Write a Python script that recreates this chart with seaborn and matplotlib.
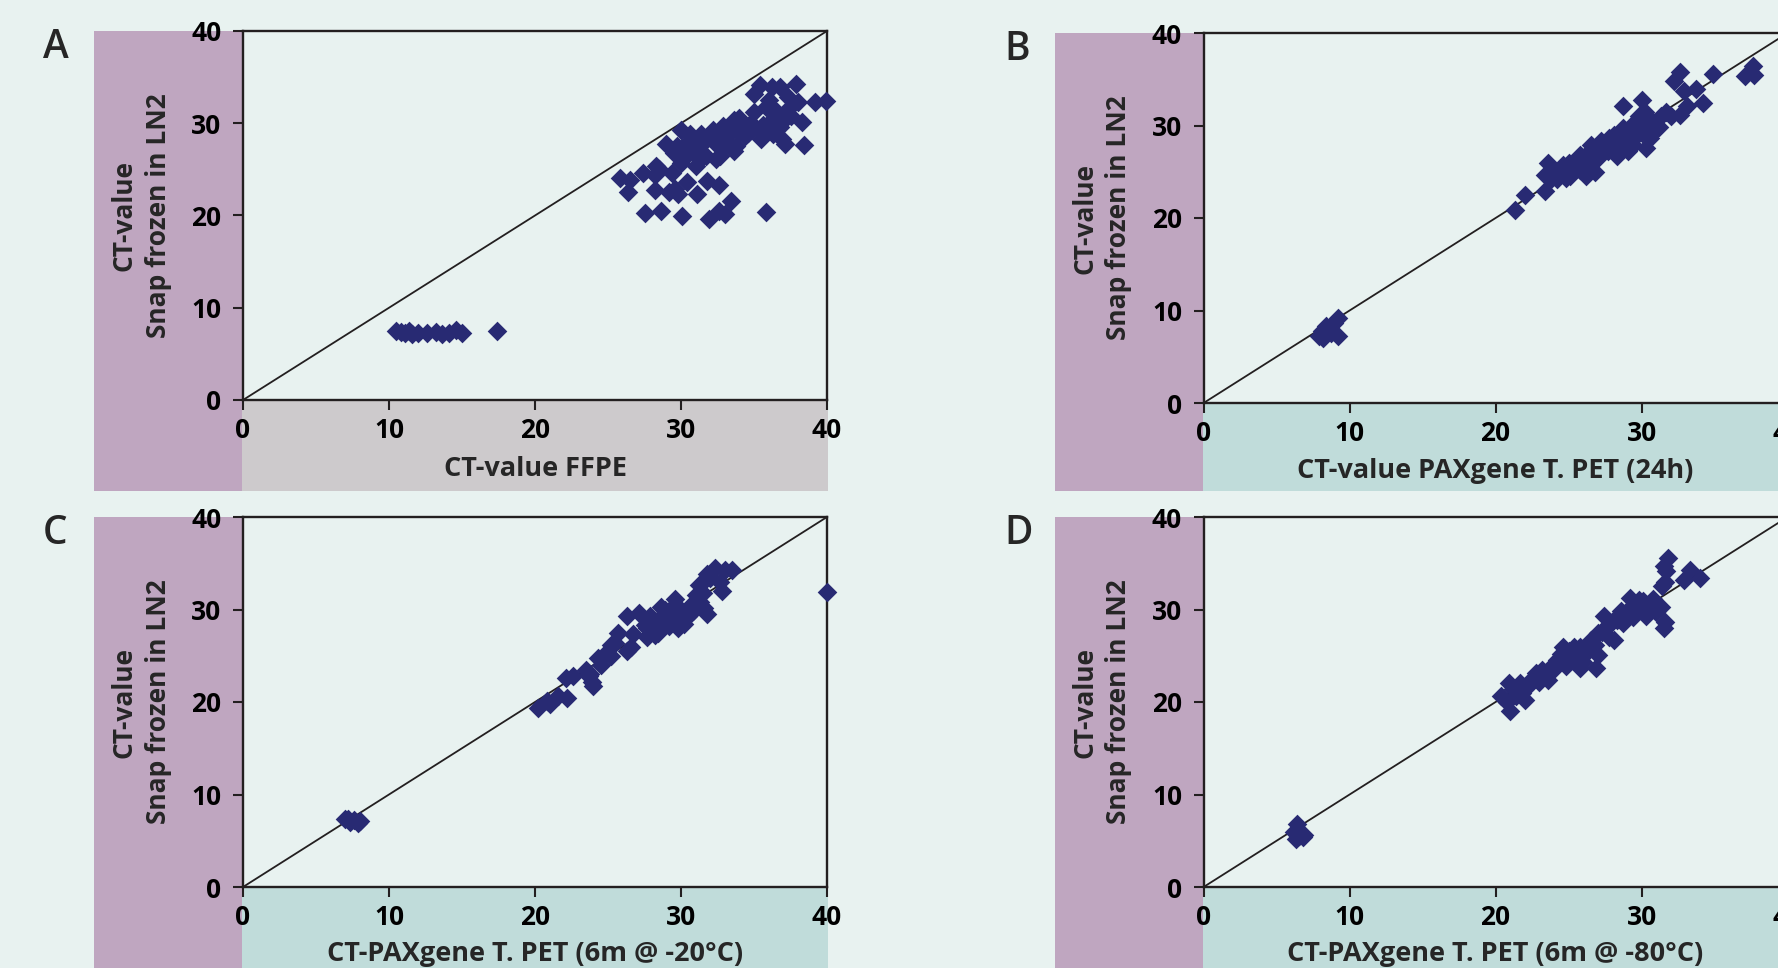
import matplotlib
matplotlib.use("Agg")
import matplotlib.pyplot as plt
from matplotlib.patches import Rectangle
import seaborn as sns

# ---- data ----
ticks = [0, 10, 20, 30, 40]
ylabel_top = "CT-value"
ylabel_bottom = "Snap frozen in LN2"

ffpe_x = [10.5, 10.8, 11.1, 11.4, 11.6, 12.0, 12.6, 13.2, 13.6, 14.1, 14.6, 15.0, 17.4,
          25.8, 26.4, 26.5, 27.4, 27.5, 28.2, 28.2, 28.3, 28.6, 29.0, 29.2, 29.4, 29.5, 29.8,
          30.0, 30.0, 30.1, 30.4, 30.4, 30.8, 31.1, 31.3, 31.3, 31.7, 31.8, 31.9, 32.0, 32.4,
          32.4, 32.6, 32.6, 32.7, 32.9, 33.3, 33.4, 33.6, 33.6, 33.8, 34.3, 34.4, 35.0, 35.0,
          35.4, 35.4, 35.5, 35.8, 36.1, 36.2, 36.2, 36.5, 36.8, 36.9, 37.1, 37.3, 37.5, 37.9,
          38.0, 38.3, 38.4, 39.2, 39.9,
          30.6, 31.6, 33.0, 34.0, 34.8, 29.7, 30.2, 32.2, 36.0, 36.6, 37.0, 28.5, 29.6, 33.0,
          30.9, 31.4, 32.5, 33.2, 34.6, 35.6, 36.3, 30.3, 31.0, 32.8, 34.0, 35.8, 36.8, 37.4]
ffpe_y = [7.5, 7.4, 7.3, 7.5, 7.2, 7.3, 7.3, 7.4, 7.2, 7.3, 7.6, 7.3, 7.5,
          24.1, 22.6, 23.9, 24.6, 20.3, 24.4, 22.8, 25.4, 20.5, 27.7, 22.5, 24.6, 26.8, 22.3,
          29.3, 25.7, 19.9, 27.9, 23.6, 26.8, 22.3, 27.5, 26.1, 26.4, 23.7, 19.6, 28.8, 27.7,
          26.1, 23.3, 20.5, 26.4, 29.7, 28.8, 21.6, 30.3, 27.0, 27.5, 29.7, 28.6, 33.2, 31.2,
          34.2, 29.2, 28.3, 20.4, 31.9, 33.9, 30.4, 29.3, 33.9, 28.3, 27.7, 32.8, 30.8, 34.3,
          32.3, 30.1, 27.6, 32.3, 32.4,
          28.8, 28.3, 28.2, 29.0, 30.0, 27.5, 26.2, 29.3, 32.5, 31.2, 30.2, 25.0, 22.9, 20.2,
          27.6, 28.8, 28.4, 29.4, 28.9, 29.8, 28.8, 27.2, 25.4, 27.3, 30.6, 31.8, 29.6, 31.6]

pet24_x = [7.9, 8.2, 8.4, 8.7, 8.9, 9.2, 9.2, 8.1,
           21.3, 22.0, 23.4, 23.4, 23.6, 24.6, 25.1, 25.8, 26.2, 26.8, 26.5, 27.2, 27.7, 28.1,
           28.3, 28.7, 29.1, 29.4, 29.9, 30.3, 30.6, 28.7, 30.0, 31.0, 31.7, 32.6, 33.1, 32.2,
           32.6, 32.9, 33.7, 34.2, 34.9, 37.1, 37.6, 37.7,
           24.0, 25.0, 25.5, 26.0, 27.0, 27.5, 28.5, 29.5, 30.2, 31.2, 32.0, 29.8, 24.2, 26.5,
           24.5, 25.3, 25.8, 26.3, 26.8, 27.3, 27.8, 28.2, 28.9, 29.3, 30.0, 30.5, 31.3, 30.8,
           24.8, 23.8, 29.6, 30.2]
pet24_y = [7.2, 7.0, 8.3, 7.6, 8.6, 9.2, 7.2, 7.8,
           20.9, 22.5, 22.9, 24.7, 25.9, 25.7, 24.5, 26.8, 24.5, 25.0, 27.9, 28.3, 27.2, 29.0,
           26.7, 29.7, 27.2, 27.9, 30.4, 27.6, 28.6, 32.1, 32.8, 30.1, 31.5, 31.1, 32.1, 34.8,
           35.8, 33.7, 33.9, 32.4, 35.6, 35.3, 36.4, 35.5,
           25.0, 26.0, 25.5, 26.5, 26.5, 28.0, 28.5, 29.0, 29.5, 29.8, 31.0, 31.0, 24.2, 25.8,
           25.3, 25.8, 25.2, 27.0, 26.3, 27.3, 28.6, 27.8, 28.3, 30.0, 29.2, 30.8, 31.0, 29.3,
           24.3, 24.2, 28.9, 31.5]

pet20_x = [7.0, 7.3, 7.6, 7.9, 7.2, 8.0,
           20.2, 20.8, 21.6, 22.2, 22.1, 22.6, 23.5, 23.9, 24.3, 25.5, 25.7, 26.3, 26.7, 26.3,
           27.1, 27.7, 27.9, 28.6, 28.4, 29.0, 29.6, 29.7, 30.2, 30.7, 31.0, 31.8, 31.2, 31.8,
           32.3, 32.8, 32.7, 33.5, 33.0, 27.7, 29.2, 40.0,
           23.8, 24.8, 25.2, 28.0, 28.8, 29.4, 30.0, 30.5, 31.3, 31.5, 21.0, 24.0,
           28.9, 29.5, 30.0, 30.4, 29.2, 30.8, 28.4, 27.5, 26.6, 25.2, 24.5, 23.7, 31.6, 32.0,
           31.5, 28.2, 29.8]
pet20_y = [7.3, 7.0, 7.2, 6.9, 7.4, 7.1,
           19.4, 20.1, 20.6, 20.4, 22.6, 22.8, 23.5, 22.2, 24.8, 26.4, 27.5, 25.5, 27.3, 29.3,
           29.6, 28.0, 29.3, 30.3, 27.5, 28.7, 31.1, 29.5, 28.4, 30.5, 31.6, 29.5, 32.7, 33.8,
           34.5, 32.0, 33.0, 34.3, 34.3, 27.0, 29.8, 31.9,
           23.0, 25.2, 25.0, 28.5, 29.2, 28.6, 30.0, 29.3, 30.8, 31.8, 19.8, 21.7,
           30.0, 30.4, 29.0, 30.0, 28.2, 29.8, 28.9, 28.3, 25.9, 26.2, 24.0, 22.8, 30.2, 33.4,
           33.0, 27.2, 28.0]

pet80_x = [6.2, 6.5, 6.8, 6.4, 6.6, 6.9, 6.3,
           20.4, 21.0, 20.9, 21.7, 21.4, 22.2, 22.8, 23.6, 23.9, 24.6, 25.1, 25.8, 25.8, 26.9,
           27.0, 27.4, 27.3, 28.1, 28.3, 29.2, 29.0, 30.1, 30.3, 31.3, 31.6, 31.5, 31.4, 31.5,
           31.8, 31.7, 33.3, 32.9, 34.0, 27.9, 28.7, 26.5,
           21.8, 22.5, 23.2, 24.2, 25.0, 25.5, 26.2, 27.0, 28.5, 29.5, 30.5, 26.0, 24.8,
           23.0, 24.0, 24.5, 25.4, 26.0, 26.8, 27.6, 27.8, 28.6, 29.4, 29.8, 30.8, 31.0, 22.0,
           21.2, 20.8, 31.6]
pet80_y = [6.0, 5.5, 5.4, 6.8, 5.8, 5.6, 5.2,
           20.6, 19.0, 22.1, 22.1, 20.6, 21.7, 23.1, 22.4, 24.0, 26.0, 24.6, 26.0, 23.7, 23.7,
           25.1, 29.3, 27.6, 26.7, 28.9, 31.2, 29.8, 30.9, 29.3, 30.3, 28.7, 28.0, 32.5, 34.7,
           35.6, 34.2, 34.3, 33.2, 33.4, 28.5, 28.5, 26.7,
           21.0, 22.5, 23.5, 24.5, 25.5, 24.8, 25.5, 27.5, 29.5, 30.0, 30.0, 25.0, 23.9,
           22.2, 23.6, 25.2, 25.9, 24.3, 26.2, 28.2, 27.0, 29.8, 29.2, 31.0, 31.1, 29.7, 20.2,
           21.4, 20.0, 33.0]

# ---- style ----
W, H = 1778, 968
BG = "#E8F2F0"
PURPLE = "#BFA6C0"
GREY = "#CDCACC"
TEAL = "#C0DCDA"
NAVY = "#282A73"
INK = "#231F20"

sns.set_style("white")
plt.rcParams["font.family"] = ["Open Sans", "DejaVu Sans"]
plt.rcParams["font.weight"] = "bold"

fig = plt.figure(figsize=(W / 100, H / 100), dpi=100, facecolor=BG)


def box(x0, y0, x1, y1, color):
    fig.patches.append(Rectangle((x0 / W, 1 - y1 / H), (x1 - x0) / W, (y1 - y0) / H,
                                 transform=fig.transFigure, facecolor=color,
                                 edgecolor="none", zorder=-5))


def panel(letter, xs, ys, xlabel, left, top, bottom, lowbox, xlab_y, dx=0):
    low = H if bottom > 600 else 491
    box(94 + dx, top, 242 + dx, low, PURPLE)
    box(242 + dx, bottom, 828 + dx + (960 if dx else 0), low, lowbox)
    ax = fig.add_axes([left / W, 1 - bottom / H, 584 / W, (bottom - top) / H])
    ax.set_facecolor(BG)
    ax.plot([0, 40], [0, 40], color=INK, lw=1.3, zorder=1)
    sns.scatterplot(x=xs, y=ys, ax=ax, marker="D", s=100, color=NAVY,
                    linewidth=0, zorder=3, clip_on=False)
    ax.set_xlim(0, 40)
    ax.set_ylim(0, 40)
    ax.set_xticks(ticks)
    ax.set_yticks(ticks)
    for sp in ax.spines.values():
        sp.set_visible(True)
        sp.set_color(INK)
        sp.set_linewidth(1.7)
    ax.tick_params(axis="both", direction="out", length=7.5, width=1.5, color=INK,
                   labelsize=19, labelcolor="black", left=True, bottom=True)
    ax.tick_params(axis="y", pad=8)
    ax.tick_params(axis="x", pad=4.5)
    for lab in ax.get_xticklabels() + ax.get_yticklabels():
        lab.set_fontweight("bold")
    ax.set_xlabel("")
    ax.set_ylabel("")
    mid = (top + bottom) / 2
    fig.text((left + 292) / W, 1 - xlab_y / H, xlabel, ha="center", va="center",
             fontsize=19.5, fontweight="bold")
    fig.text((124 + dx) / W, 1 - mid / H, ylabel_top, rotation=90, ha="center",
             va="center", fontsize=19, fontweight="bold")
    fig.text((158 + dx) / W, 1 - mid / H, ylabel_bottom, rotation=90, ha="center",
             va="center", fontsize=19, fontweight="bold")
    fig.text((43 + dx) / W, 1 - (top + 27) / H, letter, ha="left", va="baseline",
             fontsize=28, fontweight="semibold")
    return ax


panel("A", ffpe_x, ffpe_y, "CT-value FFPE", 243, 31, 400, GREY, 469)
panel("B", pet24_x, pet24_y, "CT-value PAXgene T. PET (24h)", 1203.6, 33, 403, TEAL, 471, dx=961)
panel("C", pet20_x, pet20_y, "CT-PAXgene T. PET (6m @ -20°C)", 243, 517, 887, TEAL, 954)
panel("D", pet80_x, pet80_y, "CT-PAXgene T. PET (6m @ -80°C)", 1203.6, 517, 887, TEAL, 954, dx=961)

fig.savefig("out.png", dpi=100, facecolor=BG)
